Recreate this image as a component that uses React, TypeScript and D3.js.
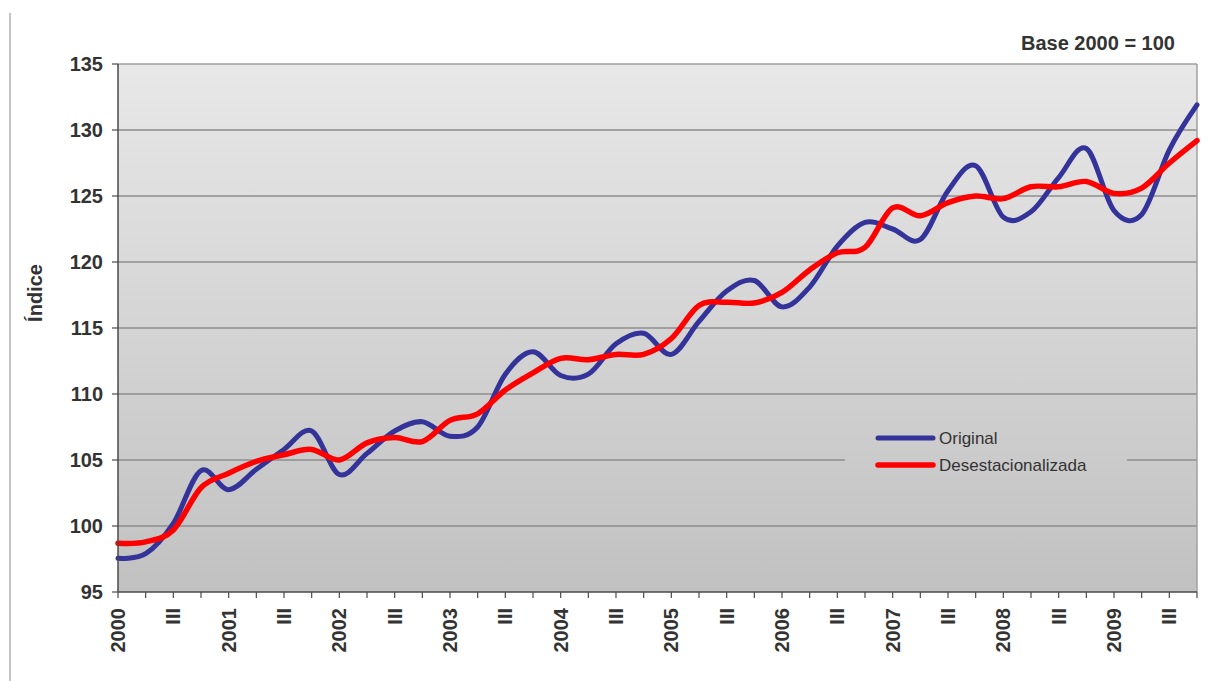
import React from 'react'
import * as d3 from 'd3'

// quarterly series, 2000 I .. 2009 IV (index base 2000 = 100)
const years = ['2000', '2001', '2002', '2003', '2004', '2005', '2006', '2007', '2008', '2009']
const quarterMarks = ['I', 'II', 'III', 'IV']

const original = [
  97.55, 97.9, 100.2, 104.2, 102.75, 104.3, 105.8, 107.2, 103.9, 105.5,
  107.2, 107.9, 106.8, 107.5, 111.5, 113.2, 111.4, 111.5, 113.8, 114.6,
  113.0, 115.5, 117.8, 118.6, 116.6, 118.1, 121.2, 123.0, 122.5, 121.7,
  125.4, 127.3, 123.4, 123.8, 126.4, 128.6, 123.9, 123.6, 128.5, 131.9,
]

const seasonallyAdjusted = [
  98.7, 98.8, 99.7, 102.9, 104.0, 104.9, 105.4, 105.8, 105.0, 106.3,
  106.7, 106.4, 108.0, 108.5, 110.3, 111.6, 112.7, 112.6, 113.0, 113.0,
  114.2, 116.7, 116.95, 116.9, 117.7, 119.4, 120.7, 121.1, 124.1, 123.5,
  124.5, 125.0, 124.8, 125.7, 125.7, 126.1, 125.2, 125.6, 127.5, 129.2,
]

const yTicks = [95, 100, 105, 110, 115, 120, 125, 130, 135]

const seriesInfo = [
  { name: 'Original', values: original, color: '#333399', width: 5 },
  { name: 'Desestacionalizada', values: seasonallyAdjusted, color: '#ff0000', width: 5.5 },
]

const font = '"Liberation Sans", Arial, sans-serif'

// category labels: year on the first quarter, "III" on the third
const categories = years.flatMap((y) => quarterMarks.map((q) => `${y} ${q}`))
const labelFor = (cat: string) => {
  const [y, q] = cat.split(' ')
  if (q === 'I') return y
  if (q === 'III') return 'III'
  return ''
}

const App = () => {
  const width = 1212
  const height = 681
  const left = 118
  const right = 1197
  const top = 64
  const bottom = 592

  const x = d3.scalePoint<string>().domain(categories).range([left, right]).padding(0)
  const y = d3.scaleLinear().domain([95, 135]).range([bottom, top])

  // Excel-style smoothed line ~ uniform Catmull-Rom
  const line = d3
    .line<number>()
    .x((_, i) => x(categories[i]) as number)
    .y((d) => y(d))
    .curve(d3.curveCardinal.tension(0))

  return (
    <svg
      width={width}
      height={height}
      style={{ position: 'absolute', left: 0, top: 0, fontFamily: font }}
    >
      <defs>
        <linearGradient id="plotBg" gradientUnits="userSpaceOnUse" x1="0" y1={top} x2="0" y2={bottom}>
          <stop offset="0" stopColor="#e8e8e8" />
          <stop offset="1" stopColor="#c1c1c1" />
        </linearGradient>
      </defs>
      <rect x={0} y={0} width={width} height={height} fill="#ffffff" />
      {/* outer frame, only the left edge is visible */}
      <line x1={10} x2={10} y1={13} y2={height} stroke="#c4c4c4" strokeWidth={2} />

      <rect x={left} y={top} width={right - left} height={bottom - top} fill="url(#plotBg)" />

      {/* gridlines */}
      {yTicks.slice(1, -1).map((t) => (
        <line key={t} x1={left} x2={right} y1={y(t)} y2={y(t)} stroke="#8e8e8e" strokeWidth={1.5} />
      ))}
      <line x1={left} x2={right} y1={top} y2={top} stroke="#a0a0a0" strokeWidth={1.5} />
      <line x1={right} x2={right} y1={top} y2={bottom} stroke="#a0a0a0" strokeWidth={1.5} />

      {/* legend box hides the gridline behind it */}
      <rect x={845} y={420} width={282} height={60} fill="url(#plotBg)" />

      {seriesInfo.map((s) => (
        <path
          key={s.name}
          d={line(s.values) ?? ''}
          fill="none"
          stroke={s.color}
          strokeWidth={s.width}
          strokeLinejoin="round"
          strokeLinecap="round"
        />
      ))}

      {/* axes */}
      <line x1={left} x2={left} y1={top} y2={bottom} stroke="#4a4a4a" strokeWidth={1.5} />
      <line x1={left} x2={right} y1={bottom} y2={bottom} stroke="#4a4a4a" strokeWidth={1.5} />
      {yTicks.map((t) => (
        <g key={t}>
          <line x1={left - 6} x2={left} y1={y(t)} y2={y(t)} stroke="#4a4a4a" strokeWidth={1.2} />
          <text
            x={103}
            y={y(t)}
            dy="0.35em"
            textAnchor="end"
            fontSize={20}
            fontWeight="bold"
            fill="#333333"
          >
            {t}
          </text>
        </g>
      ))}
      {categories.map((c) => {
        const cx = x(c) as number
        const label = labelFor(c)
        return (
          <g key={c}>
            <line x1={cx} x2={cx} y1={bottom} y2={bottom + 6} stroke="#4a4a4a" strokeWidth={1.2} />
            {label && (
              <text
                transform={`translate(${cx},608) rotate(-90)`}
                dy="0.35em"
                textAnchor="end"
                fontSize={20}
                fontWeight="bold"
                fill="#333333"
              >
                {label}
              </text>
            )}
          </g>
        )
      })}

      <text
        transform="translate(35,293) rotate(-90)"
        dy="0.35em"
        textAnchor="middle"
        fontSize={20}
        fontWeight="bold"
        fill="#333333"
      >
        Índice
      </text>

      <text x={1175} y={50} textAnchor="end" fontSize={20} fontWeight="bold" fill="#333333">
        Base 2000 = 100
      </text>

      {/* legend */}
      {seriesInfo.map((s, i) => (
        <g key={s.name} transform={`translate(878,${438 + i * 27})`}>
          <line x1={0} x2={55} y1={0} y2={0} stroke={s.color} strokeWidth={s.width} strokeLinecap="round" />
          <text x={61} y={0} dy="0.35em" fontSize={17} fill="#333333">
            {s.name}
          </text>
        </g>
      ))}
    </svg>
  )
}

export default App
